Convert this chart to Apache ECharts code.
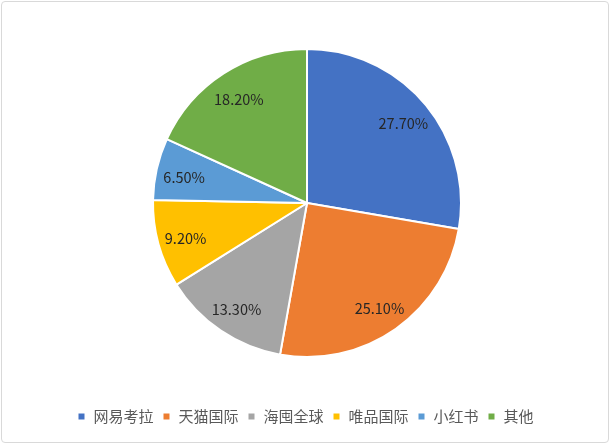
<!DOCTYPE html>
<html>
<head>
<meta charset="utf-8">
<script src="https://cdn.jsdelivr.net/npm/echarts@6/dist/echarts.min.js"></script>
<style>
    html, body { margin: 0; padding: 0; background: #fff; }
    #chart { position: absolute; left: 1px; top: 1px; width: 608px; height: 442px;
             border: 1px solid #d9d9d9; border-radius: 4px; box-sizing: border-box; }
</style>
</head>
<body>
<div id="chart"></div>
<script>
var categories = ['网易考拉', '天猫国际', '海囤全球', '唯品国际', '小红书', '其他'];
var shares = [27.7, 25.1, 13.3, 9.2, 6.5, 18.2];
var colors = ['#4472C4', '#ED7D31', '#A5A5A5', '#FFC000', '#5B9BD5', '#70AD47'];

var chartMgr = {

    initPie: function () {
        var myChart = echarts.init(document.getElementById('chart'));

        var pieData = categories.map(function (name, i) {
            return { name: name, value: shares[i] };
        });

        var option = {
            animation: false,
            color: colors,
            legend: {
                top: 402,
                left: 'center',
                icon: 'rect',
                itemWidth: 8,
                itemHeight: 8,
                itemGap: 8,
                textStyle: {
                    color: '#595959',
                    fontSize: 15,
                    fontFamily: 'Noto Sans CJK SC',
                    padding: [0, 0, 0, 3]
                },
                data: categories
            },
            series: [
                {
                    // 实际饼图
                    type: 'pie',
                    center: [305, 201],
                    radius: 154,
                    startAngle: 90,
                    clockwise: true,
                    label: { show: false },
                    labelLine: { show: false },
                    itemStyle: {
                        borderColor: '#fff',
                        borderWidth: 2
                    },
                    data: pieData
                },
                {
                    // 透明层，用来把数据标签放在靠外的位置
                    type: 'pie',
                    center: [305, 203],
                    radius: 246,
                    startAngle: 90,
                    clockwise: true,
                    silent: true,
                    itemStyle: { color: 'rgba(0,0,0,0)' },
                    label: {
                        show: true,
                        position: 'inside',
                        color: '#262626',
                        fontSize: 14.5,
                        fontFamily: 'Noto Sans CJK SC',
                        formatter: function (p) {
                            return p.value.toFixed(2) + '%';
                        }
                    },
                    labelLine: { show: false },
                    emphasis: { disabled: true },
                    data: pieData
                }
            ]
        };

        myChart.setOption(option);
    }
};

chartMgr.initPie();
</script>
</body>
</html>
